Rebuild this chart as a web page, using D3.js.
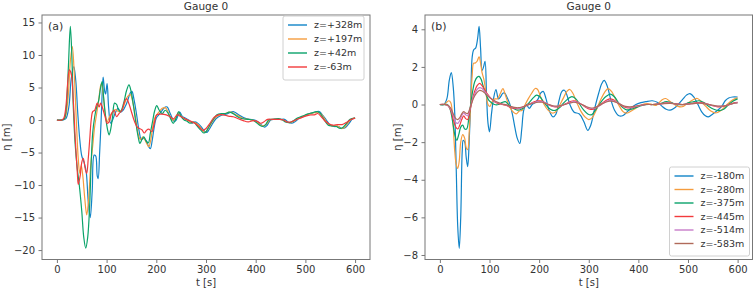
<!DOCTYPE html>
<html>
<head>
<meta charset="utf-8">
<script src="https://cdn.jsdelivr.net/npm/d3@7"></script>
<style>
  body { margin: 0; background: #fff; }
  svg { font-family: "DejaVu Sans", sans-serif; }
</style>
</head>
<body>
<div id="container"></div>
<script>
let w = 754;
let h = 288;

// DATA  (t [s], eta [m])
// panel (a)
let labelsA = ["z=+328m", "z=+197m", "z=+42m", "z=-63m"];
let z328 = [[0,0],[12,0],[18,0.2],[24,2],[29,6.5],[34,8.2],[38,6],[42,1],[46,-3],[50,-5.5],[55,-6.6],[59,-8],[63,-12.5],[67,-15],[71,-11],[75,-5.4],[78,-5.5],[81,-8.5],[83,-9],[86,-5],[89,0],[91,4],[93,6.6],[96,4.5],[98,4],[101,5.6],[104,2],[108,-0.5],[112,0],[117,1],[123,1.8],[128,1.2],[133,1.5],[140,2.5],[148,4.2],[151,4.4],[155,3.2],[160,1],[165,-1.5],[170,-3],[175,-2.8],[180,-3.2],[184,-4],[188,-4.4],[192,-3],[196,-1],[200,0.3],[205,0.8],[212,1.5],[218,2.0],[222,2.0],[228,1.0],[236,-0.2],[240,0],[247,1.2],[252,0.6],[258,0.3],[265,0],[272,-0.5],[278,-0.3],[285,-0.6],[292,-1.2],[298,-1.8],[302,-1.9],[306,-1.5],[312,-0.7],[320,0.2],[330,0.7],[340,0.9],[350,1.2],[355,1.3],[362,1.0],[370,0.6],[378,0.3],[388,0.1],[398,0],[405,-0.3],[412,-0.8],[418,-1.1],[423,-0.8],[430,0],[438,0.1],[450,0.1],[458,0.1],[465,-0.3],[472,-0.5],[480,-0.2],[488,0.3],[498,0.6],[508,1.0],[518,1.2],[528,1.3],[534,0.8],[542,0],[550,-0.8],[558,-1.0],[566,-1.0],[574,-1.3],[580,-1.2],[588,-0.5],[595,0.2],[600,0.3]];
let z197 = [[0,0],[10,0],[16,0.3],[22,3],[27,9],[31,11.3],[35,7],[39,0],[43,-6],[46,-8.2],[49,-7],[52,-8.5],[56,-12],[60,-14.6],[64,-12],[68,-7],[72,-4],[76,-1],[80,1],[84,3],[88,5.3],[90,5.6],[93,4],[97,1],[101,-0.3],[106,0.5],[112,1.2],[118,1.6],[124,1.3],[130,1.5],[136,2.5],[142,3.6],[148,3.9],[152,3],[158,0.5],[163,-2],[168,-3],[173,-2.6],[178,-3.2],[182,-3.8],[185,-4.1],[189,-3],[193,-1],[198,0.5],[205,1.2],[212,1.8],[218,1.9],[224,1.2],[232,0],[238,0.2],[244,1.1],[250,0.6],[256,0.2],[262,0],[270,-0.4],[278,-0.4],[285,-0.8],[292,-1.5],[298,-1.9],[304,-1.4],[310,-0.6],[318,0.3],[328,0.8],[338,1.0],[348,1.2],[352,1.2],[360,0.8],[368,0.5],[376,0.2],[386,0.1],[396,-0.1],[402,-0.3],[410,-0.8],[416,-0.9],[422,-0.6],[428,0],[436,0.1],[448,0.1],[456,0],[462,-0.3],[470,-0.4],[478,-0.1],[486,0.3],[496,0.6],[506,0.9],[516,1.1],[526,1.2],[532,0.9],[540,0],[548,-0.8],[556,-0.9],[564,-0.9],[572,-1.3],[578,-1.2],[585,-0.5],[593,0.2],[600,0.3]];
let z42 = [[0,0],[10,0],[15,0.2],[19,2],[23,8],[27,14.4],[30,10],[33,2],[37,-4],[41,-7.5],[45,-10],[50,-14],[54,-18],[58,-19.7],[62,-18],[66,-13],[69,-6.5],[72,-2],[76,0.5],[80,2.0],[84,3.0],[88,5.0],[91,5.9],[94,3.5],[98,0.5],[102,-1.5],[105,-2.3],[108,-1.5],[112,0.5],[116,2.6],[120,2.4],[124,1.6],[128,1.3],[134,2.5],[140,4.5],[145,5.4],[149,4.5],[154,2.2],[159,-0.5],[164,-2.8],[167,-3.6],[171,-3.0],[175,-2.6],[180,-3.3],[184,-3.5],[188,-2.0],[193,0],[197,1.5],[201,2.2],[206,1.5],[212,1.0],[218,1.5],[224,1.0],[230,0],[234,-0.5],[240,0.3],[245,1.3],[250,0.5],[256,0],[262,-0.2],[268,-0.5],[275,-0.3],[282,-0.9],[290,-1.6],[296,-2.0],[300,-1.8],[306,-1.0],[314,0],[322,0.8],[332,1.0],[340,1.0],[346,1.2],[352,1.1],[358,0.8],[366,0.4],[374,0.2],[384,0.1],[394,0],[400,-0.3],[408,-0.8],[414,-1.0],[420,-0.7],[426,0],[434,0.1],[446,0.2],[454,0],[460,-0.3],[468,-0.4],[476,-0.1],[484,0.3],[494,0.6],[504,0.9],[514,1.1],[524,1.3],[530,1.0],[538,0],[546,-0.8],[554,-0.9],[562,-1.0],[570,-1.3],[576,-1.1],[583,-0.5],[590,0.1],[600,0.3]];
let zm63 = [[0,0],[10,0],[14,0.3],[18,2],[22,6],[25,7.7],[29,7],[33,3],[37,-3],[41,-8],[43,-9.9],[47,-8.5],[50,-6.5],[53,-5.9],[57,-7.5],[60,-8.2],[63,-6],[66,-3],[69,0],[72,1.3],[76,1.5],[81,2.6],[85,2.0],[88,2.6],[92,1.8],[97,0.5],[101,-0.5],[105,-0.3],[110,1.0],[115,1.5],[120,0.5],[125,1.0],[131,1.5],[136,2.8],[140,3.3],[145,2.5],[151,1.0],[156,-0.2],[161,-1.0],[166,-1.3],[171,-1.5],[176,-2.0],[180,-1.6],[185,-1.4],[191,-1.8],[196,-0.5],[201,0.8],[210,0.9],[220,0.8],[228,0.5],[235,0.2],[242,0.8],[250,0.5],[260,0.1],[270,-0.2],[280,-0.6],[288,-1.2],[294,-1.6],[300,-1.3],[308,-0.5],[316,0.4],[325,0.8],[335,0.8],[345,0.6],[355,0.5],[365,0.2],[375,-0.1],[385,-0.3],[395,-0.1],[403,-0.2],[410,-0.5],[416,-0.3],[424,0.1],[434,0.1],[446,0.1],[456,0],[463,-0.3],[470,-0.3],[480,0],[490,0.3],[500,0.6],[510,0.8],[518,0.8],[525,1.0],[532,0.5],[540,-0.2],[548,-0.6],[556,-0.8],[565,-0.7],[574,-0.7],[582,-0.4],[590,0],[600,0.3]];

// panel (b)
let labelsB = ["z=-180m", "z=-280m", "z=-375m", "z=-445m", "z=-514m", "z=-583m"];
let zm180 = [[0,0],[8,0],[14,0.3],[19,1.3],[23,1.7],[27,0.9],[30,-0.5],[33,-3.5],[36,-6.5],[39,-7.65],[42,-6],[45,-2.5],[47,-1.9],[50,-2.0],[53,-2.8],[56,-3.3],[59,-2],[62,0],[65,2.5],[68,2.9],[72,3.0],[76,3.5],[79,4.15],[82,3.0],[85,1.8],[88,2.0],[91,2.3],[94,0.5],[97,-1.0],[100,-1.45],[104,-0.5],[108,0.3],[113,0.8],[118,0.3],[122,0.4],[127,0.6],[131,0.6],[135,0.4],[140,0.1],[146,-0.5],[151,-1.2],[156,-1.8],[161,-2.07],[165,-1.3],[169,-0.3],[174,0],[180,-0.2],[186,0],[192,0.1],[198,0.3],[203,0.6],[208,0.7],[214,0.3],[220,-0.3],[228,-0.66],[234,-0.5],[240,0.2],[246,0.7],[251,0.76],[256,0.5],[262,0],[270,-0.4],[281,-0.5],[290,-0.9],[298,-1.37],[304,-1.1],[312,-0.2],[320,0.6],[326,1.1],[331,1.28],[337,1.0],[344,0.3],[352,-0.3],[361,-0.6],[368,-0.6],[375,-0.45],[385,-0.2],[395,0],[405,0.1],[415,0.15],[428,0.2],[440,0.1],[448,-0.1],[456,-0.25],[464,-0.3],[472,-0.2],[480,0],[490,0.3],[497,0.5],[504,0.58],[512,0.4],[520,0],[528,-0.4],[535,-0.6],[541,-0.66],[550,-0.5],[560,-0.3],[568,-0.1],[575,0.2],[582,0.35],[590,0.4],[600,0.4]];
let zm280 = [[0,0],[8,0],[13,0.1],[18,0.2],[22,0.1],[26,-0.8],[30,-2.5],[33,-3.2],[36,-3.4],[39,-3.0],[42,-2.0],[46,-1.6],[50,-1.8],[53,-2.3],[56,-2.4],[59,-1.5],[62,0],[65,1.5],[68,2.2],[71,2.2],[75,2.3],[79,2.54],[82,2.2],[85,1.7],[89,1.3],[93,0.6],[97,0],[101,-0.1],[106,0.2],[111,0.3],[116,0.3],[122,0.6],[127,0.85],[132,0.5],[137,0.1],[142,-0.2],[148,-0.4],[154,-0.5],[160,-0.35],[166,-0.3],[172,0],[178,0.3],[185,0.6],[192,0.85],[197,0.8],[203,0.4],[210,0],[218,-0.3],[226,-0.45],[233,-0.4],[240,-0.1],[248,0.3],[256,0.7],[262,0.8],[268,0.6],[276,0.1],[284,-0.35],[292,-0.65],[300,-0.8],[307,-0.7],[315,-0.3],[323,0.2],[332,0.65],[339,0.85],[346,0.7],[354,0.3],[362,-0.1],[370,-0.4],[378,-0.45],[388,-0.3],[398,-0.15],[408,0],[418,0.05],[428,0],[436,-0.05],[442,0.1],[448,0.25],[455,0.32],[462,0.2],[470,0.05],[480,-0.1],[488,-0.12],[496,0],[504,0.15],[512,0.28],[519,0.32],[527,0.15],[536,-0.1],[546,-0.35],[556,-0.45],[565,-0.35],[575,-0.1],[585,0.15],[594,0.3],[600,0.35]];
let zm375 = [[0,0],[10,0],[15,0],[20,-0.2],[25,-0.8],[30,-1.6],[34,-1.9],[38,-1.6],[42,-1.2],[46,-1.1],[50,-1.3],[54,-1.3],[58,-0.8],[62,0],[66,0.7],[70,1.2],[75,1.45],[79,1.5],[83,1.35],[87,1.0],[92,0.6],[98,0.25],[104,0.1],[110,0],[118,0],[125,0.1],[132,0.15],[140,-0.05],[148,-0.2],[156,-0.3],[164,-0.25],[172,-0.1],[180,0.1],[188,0.35],[195,0.5],[202,0.4],[210,0.1],[218,-0.15],[226,-0.3],[234,-0.3],[242,-0.15],[250,0.1],[258,0.3],[266,0.42],[274,0.3],[282,0],[290,-0.3],[298,-0.5],[305,-0.55],[312,-0.35],[320,-0.05],[328,0.25],[336,0.45],[344,0.55],[352,0.4],[360,0.1],[368,-0.15],[376,-0.28],[386,-0.25],[396,-0.15],[408,-0.05],[420,0],[432,0],[444,0.05],[456,0.15],[466,0.1],[478,0],[490,0],[502,0.1],[512,0.15],[522,0.2],[532,0.1],[542,-0.1],[552,-0.25],[562,-0.32],[572,-0.25],[582,0],[592,0.2],[600,0.3]];
let zm445 = [[0,0],[10,0],[16,-0.05],[22,-0.3],[27,-0.8],[32,-1.2],[36,-1.3],[40,-1.1],[44,-0.8],[48,-0.6],[52,-0.75],[56,-0.8],[60,-0.4],[65,0.2],[70,0.7],[75,1.0],[80,1.12],[85,1.0],[90,0.8],[96,0.55],[102,0.35],[110,0.15],[118,0.05],[126,0],[134,-0.05],[142,-0.15],[150,-0.2],[158,-0.22],[166,-0.15],[174,-0.05],[182,0.05],[190,0.15],[198,0.2],[206,0.18],[214,0.05],[222,-0.05],[230,-0.12],[238,-0.12],[246,-0.05],[254,0.05],[262,0.15],[270,0.2],[278,0.12],[286,0],[294,-0.15],[302,-0.25],[310,-0.25],[318,-0.1],[326,0.05],[334,0.2],[342,0.3],[350,0.25],[358,0.1],[366,-0.05],[374,-0.15],[384,-0.18],[394,-0.12],[404,-0.05],[416,0],[428,0],[440,0.02],[452,0.08],[464,0.08],[476,0.03],[488,0],[500,0.03],[512,0.08],[524,0.1],[536,0.05],[548,-0.05],[560,-0.12],[572,-0.1],[584,0],[594,0.1],[600,0.12]];
let zm514 = [[0,0],[10,0],[16,-0.05],[22,-0.25],[27,-0.6],[32,-0.95],[36,-1.0],[40,-0.85],[44,-0.6],[48,-0.45],[52,-0.55],[56,-0.6],[60,-0.3],[65,0.2],[70,0.55],[75,0.8],[80,0.9],[85,0.85],[90,0.7],[96,0.5],[102,0.35],[110,0.18],[118,0.08],[126,0.02],[134,-0.03],[142,-0.12],[150,-0.17],[158,-0.2],[166,-0.15],[174,-0.06],[182,0.03],[190,0.1],[198,0.15],[206,0.15],[214,0.06],[222,-0.03],[230,-0.1],[238,-0.1],[246,-0.05],[254,0.03],[262,0.1],[270,0.15],[278,0.1],[286,0],[294,-0.12],[302,-0.2],[310,-0.22],[318,-0.12],[326,0.02],[334,0.15],[342,0.22],[350,0.2],[358,0.1],[366,-0.03],[374,-0.12],[384,-0.15],[394,-0.1],[404,-0.05],[416,0],[428,0],[440,0.02],[452,0.06],[464,0.07],[476,0.03],[488,0],[500,0.02],[512,0.06],[524,0.08],[536,0.04],[548,-0.04],[560,-0.1],[572,-0.08],[584,0],[594,0.08],[600,0.1]];
let zm583 = [[0,0],[10,0],[16,-0.04],[22,-0.2],[27,-0.5],[32,-0.75],[36,-0.8],[40,-0.7],[44,-0.5],[48,-0.38],[52,-0.45],[56,-0.48],[60,-0.25],[65,0.15],[70,0.45],[75,0.65],[80,0.75],[85,0.72],[90,0.62],[96,0.46],[102,0.33],[110,0.2],[118,0.1],[126,0.03],[134,-0.02],[142,-0.1],[150,-0.15],[158,-0.17],[166,-0.13],[174,-0.06],[182,0.02],[190,0.08],[198,0.12],[206,0.12],[214,0.05],[222,-0.02],[230,-0.08],[238,-0.08],[246,-0.04],[254,0.02],[262,0.08],[270,0.12],[278,0.08],[286,0],[294,-0.1],[302,-0.17],[310,-0.18],[318,-0.1],[326,0.02],[334,0.12],[342,0.18],[350,0.17],[358,0.08],[366,-0.02],[374,-0.1],[384,-0.12],[394,-0.08],[404,-0.04],[416,0],[428,0],[440,0.02],[452,0.05],[464,0.06],[476,0.03],[488,0],[500,0.02],[512,0.05],[524,0.07],[536,0.03],[548,-0.03],[560,-0.08],[572,-0.07],[584,0],[594,0.07],[600,0.08]];

let xTicks = [0, 100, 200, 300, 400, 500, 600];
let yTicksA = [-20, -15, -10, -5, 0, 5, 10, 15];
let yTicksB = [-8, -6, -4, -2, 0, 2, 4];

let colors = ["#1184c8", "#f59c3e", "#0aa36a", "#f23a3c", "#c77cc9", "#b06a5a"];

// SVG
let viz = d3.select("#container").append("svg")
    .attr("width", w)
    .attr("height", h)
    .style("background-color", "white");

function panel(opts) {
  let x = d3.scaleLinear().domain([-30, 630]).range([opts.left, opts.right]);
  let y = d3.scaleLinear().domain(opts.yDomain).range([opts.bottom, opts.top]);

  let g = viz.append("g");

  // lines
  let lineMaker = d3.line()
      .x(function(d){ return x(d[0]); })
      .y(function(d){ return y(d[1]); })
      .curve(d3.curveCatmullRom.alpha(0.5));

  g.append("defs").append("clipPath").attr("id", opts.id)
    .append("rect")
      .attr("x", opts.left).attr("y", opts.top)
      .attr("width", opts.right - opts.left).attr("height", opts.bottom - opts.top);

  g.append("g").attr("clip-path", "url(#" + opts.id + ")")
    .selectAll("path").data(opts.series).enter()
    .append("path")
      .attr("d", lineMaker)
      .attr("fill", "none")
      .attr("stroke", function(d, i){ return colors[i]; })
      .attr("stroke-width", 1.2)
      .attr("stroke-linejoin", "round");

  // axes
  let xAxis = g.append("g")
      .attr("transform", "translate(0," + opts.bottom + ")")
      .call(d3.axisBottom(x).tickValues(xTicks).tickSize(3.5).tickPadding(3));
  let yAxis = g.append("g")
      .attr("transform", "translate(" + opts.left + ",0)")
      .call(d3.axisLeft(y).tickValues(opts.yTicks).tickSize(3.5).tickPadding(3.5));
  [xAxis, yAxis].forEach(function(a){
    a.select(".domain").remove();
    a.selectAll("line").attr("stroke", "#555").attr("stroke-width", 0.8);
    a.selectAll("text").attr("fill", "#333").style("font-size", "10px")
      .style("font-family", "DejaVu Sans");
  });

  // frame
  g.append("rect")
      .attr("x", opts.left).attr("y", opts.top)
      .attr("width", opts.right - opts.left).attr("height", opts.bottom - opts.top)
      .attr("fill", "none").attr("stroke", "#777").attr("stroke-width", 1);

  // title and labels
  g.append("text")
      .attr("x", (opts.left + opts.right) / 2).attr("y", 10)
      .attr("text-anchor", "middle").attr("fill", "#333")
      .style("font-size", "10.5px").text("Gauge 0");
  g.append("text")
      .attr("x", (opts.left + opts.right) / 2).attr("y", 286)
      .attr("text-anchor", "middle").attr("fill", "#333")
      .style("font-size", "10px").text("t [s]");
  g.append("text")
      .attr("transform", "translate(" + opts.ylabelX + "," + (opts.top + opts.bottom) / 2 + ") rotate(-90)")
      .attr("text-anchor", "middle").attr("fill", "#333")
      .style("font-size", "10px").text("η [m]");
  g.append("text")
      .attr("x", opts.left + 6).attr("y", opts.top + 15)
      .attr("fill", "#333").style("font-size", "11px").text(opts.tag);

  // legend
  let lg = g.append("g").attr("transform", "translate(" + opts.legX + "," + opts.legY + ")");
  lg.append("rect")
      .attr("width", opts.legW).attr("height", opts.labels.length * opts.legStep + 8)
      .attr("rx", 2)
      .attr("fill", "white").attr("fill-opacity", 0.85)
      .attr("stroke", "#d0d0d0").attr("stroke-width", 1);
  let items = lg.selectAll(".item").data(opts.labels).enter()
    .append("g")
      .attr("class", "item")
      .attr("transform", function(d, i){ return "translate(0," + (9 + i * opts.legStep) + ")"; });
  items.append("line")
      .attr("x1", 5).attr("x2", 24)
      .attr("stroke", function(d, i){ return colors[i]; })
      .attr("stroke-width", 1.4);
  items.append("text")
      .attr("x", 31).attr("dy", "0.35em")
      .attr("fill", "#333").style("font-size", "9.5px")
      .text(function(d){ return d; });
}

panel({
  id: "clipA", left: 42, right: 370, top: 15, bottom: 259.5,
  yDomain: [-21.45, 16.15], yTicks: yTicksA,
  series: [z328, z197, z42, zm63], labels: labelsA,
  tag: "(a)", ylabelX: 10,
  legX: 283, legY: 16, legW: 81, legStep: 14
});

panel({
  id: "clipB", left: 425, right: 752.5, top: 15, bottom: 259.5,
  yDomain: [-8.24, 4.76], yTicks: yTicksB,
  series: [zm180, zm280, zm375, zm445, zm514, zm583], labels: labelsB,
  tag: "(b)", ylabelX: 401,
  legX: 669.5, legY: 167, legW: 80, legStep: 13.5
});
</script>
</body>
</html>
